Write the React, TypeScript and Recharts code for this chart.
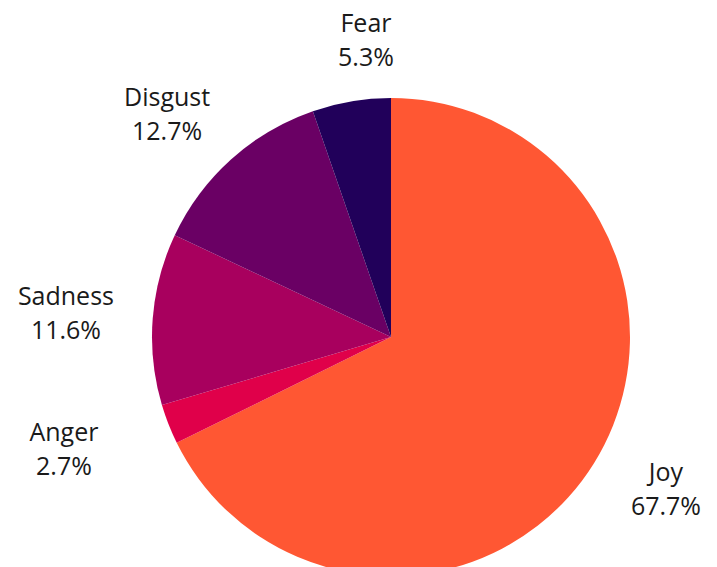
import { Cell, Pie, PieChart } from "recharts";

const emotions = ["Joy", "Anger", "Sadness", "Disgust", "Fear"];
const shares = [67.7, 2.7, 11.6, 12.7, 5.3];
const sliceColors = ["#ff5733", "#e0004a", "#a8005e", "#6a0064", "#21005a"];

const data = emotions.map((name, i) => ({ name, value: shares[i] }));

const RAD = Math.PI / 180;

// small hand tweaks so the outside labels sit where the original put them
const labelNudge: Record<string, [number, number]> = {
  Joy: [-7, -10],
  Anger: [-18, 0],
  Sadness: [6, -2],
  Disgust: [-2, 3],
  Fear: [30, 3],
};

type LabelProps = {
  cx: number;
  cy: number;
  midAngle: number;
  name: string;
  value: number;
};

function renderLabel({ cx, cy, midAngle, name, value }: LabelProps) {
  const [nx, ny] = labelNudge[name] ?? [0, 0];
  const x = cx + 332 * Math.cos(-midAngle * RAD) + nx;
  const y = cy + 305 * Math.sin(-midAngle * RAD) + ny;

  return (
    <text
      x={x}
      y={y}
      textAnchor="middle"
      fill="#1a1a1a"
      fontSize={25}
      fontFamily="'Open Sans', sans-serif"
    >
      <tspan x={x} dy={-7}>
        {name}
      </tspan>
      <tspan x={x} dy={34}>
        {value.toFixed(1)}%
      </tspan>
    </text>
  );
}

export default function App() {
  return (
    <div
      style={{
        position: "fixed",
        top: 0,
        left: 0,
        width: 717,
        height: 567,
        background: "#fff",
      }}
    >
      <PieChart width={717} height={567} margin={{ top: 0, right: 0, bottom: 0, left: 0 }}>
        <Pie
          data={data}
          dataKey="value"
          nameKey="name"
          cx={391}
          cy={337}
          outerRadius={239}
          startAngle={90}
          endAngle={-270}
          stroke="none"
          label={renderLabel}
          labelLine={false}
          isAnimationActive={false}
        >
          {data.map((item, index) => (
            <Cell key={item.name} fill={sliceColors[index]} />
          ))}
        </Pie>
      </PieChart>
    </div>
  );
}
